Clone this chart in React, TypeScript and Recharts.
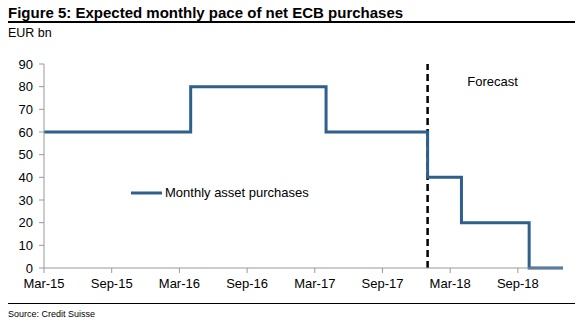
import React from 'react';
import { LineChart, Line, XAxis, YAxis, ReferenceLine } from 'recharts';

// month index 0 = Mar-15
const months = [0, 12, 13, 24, 25, 33, 34, 36, 37, 42, 43, 46];
const purchases = [60, 60, 80, 80, 60, 60, 40, 40, 20, 20, 0, 0];
const tickIdx = [0, 6, 12, 18, 24, 30, 36, 42];
const tickLabels = ['Mar-15', 'Sep-15', 'Mar-16', 'Sep-16', 'Mar-17', 'Sep-17', 'Mar-18', 'Sep-18'];
const yTicks = [0, 10, 20, 30, 40, 50, 60, 70, 80, 90];
const forecastStart = 34;
const seriesName = 'Monthly asset purchases';

const data = months.map((m, i) => ({ m, v: purchases[i] }));

const font = '"Liberation Sans", Arial, sans-serif';
const blue = '#2f5f8c';

export default function App() {
    return (
        <div style={{ position: 'absolute', left: 0, top: 0, width: 580, height: 325, background: '#fff', fontFamily: font }}>
            <div style={{ position: 'absolute', left: 8, top: 4, fontSize: 15, fontWeight: 'bold', color: '#000' }}>
                Figure 5: Expected monthly pace of net ECB purchases
            </div>
            <div style={{ position: 'absolute', left: 8, top: 21, width: 567, height: 2, background: '#000' }} />
            <div style={{ position: 'absolute', left: 8, top: 26, fontSize: 12.5, color: '#000' }}>EUR bn</div>
            <div style={{ position: 'absolute', left: 8, top: 303, width: 567, height: 1, background: '#000' }} />
            <div style={{ position: 'absolute', left: 8, top: 309, fontSize: 9, color: '#000' }}>Source: Credit Suisse</div>

            <div style={{ position: 'absolute', left: 0, top: 0 }}>
                <LineChart width={580} height={325} data={data} margin={{ top: 64, right: 17, bottom: 0, left: 0 }}>
                    <XAxis
                        dataKey="m"
                        type="number"
                        domain={[0, 46]}
                        ticks={tickIdx}
                        tickFormatter={(v: number) => tickLabels[tickIdx.indexOf(v)]}
                        tick={{ fill: '#000', fontSize: 13, fontFamily: font }}
                        stroke="#999"
                        tickSize={5}
                        tickMargin={6}
                        interval={0}
                        height={57}
                    />
                    <YAxis
                        width={44}
                        domain={[0, 90]}
                        ticks={yTicks}
                        tick={{ fill: '#000', fontSize: 13, fontFamily: font }}
                        stroke="#999"
                        tickSize={5}
                        tickMargin={6}
                        interval={0}
                    />
                    <ReferenceLine
                        x={forecastStart}
                        stroke="#000"
                        strokeWidth={2.5}
                        strokeDasharray="7 4"
                        label={(props: any) => {
                            const vb = props.viewBox || {};
                            return (
                                <text x={(vb.x || 0) + 65} y={(vb.y || 0) + 22} textAnchor="middle" fontSize={13} fontFamily={font} fill="#000">
                                    Forecast
                                </text>
                            );
                        }}
                    />
                    <Line
                        type="stepAfter"
                        dataKey="v"
                        name={seriesName}
                        stroke={blue}
                        strokeWidth={3}
                        dot={false}
                        isAnimationActive={false}
                    />
                </LineChart>
            </div>

            <div style={{ position: 'absolute', left: 131, top: 185, display: 'flex', alignItems: 'center', fontSize: 13, color: '#000' }}>
                <svg width={31} height={6} style={{ marginRight: 3 }}>
                    <line x1={0} y1={3} x2={31} y2={3} stroke={blue} strokeWidth={3} />
                </svg>
                {seriesName}
            </div>
        </div>
    );
}
